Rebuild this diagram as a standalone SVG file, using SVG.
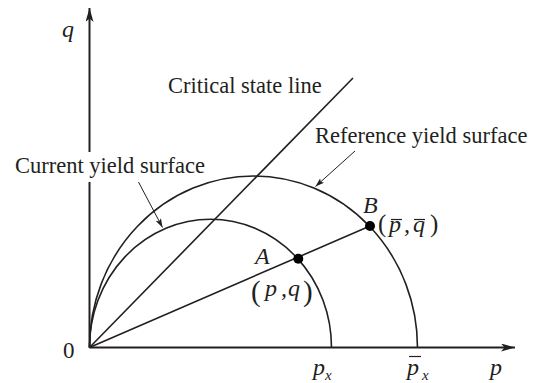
<svg xmlns="http://www.w3.org/2000/svg" width="537" height="383" viewBox="0 0 537 383">
<style>
.ax{stroke:#231f20;stroke-width:2;fill:none}
.cv{stroke:#231f20;stroke-width:1.6;fill:none}
.ld{stroke:#231f20;stroke-width:1;fill:none}
.lbl{font-family:"Liberation Serif","Times New Roman",serif;font-size:22.5px;fill:#231f20}
.m{font-family:"Liberation Serif","Times New Roman",serif;font-size:24px;font-style:italic;fill:#231f20}
.sub{font-family:"Liberation Serif","Times New Roman",serif;font-size:15px;font-style:italic;fill:#231f20}
.up{font-family:"Liberation Serif","Times New Roman",serif;fill:#231f20}
.bar{stroke:#231f20;stroke-width:1.2}
.dot{fill:#000}
</style>
<defs>
<marker id="axisArrow" viewBox="0 0 14 8" markerWidth="14" markerHeight="8" refX="14" refY="4" orient="auto" markerUnits="userSpaceOnUse">
<path d="M0,0 L14,4 L0,8 L3.5,4 Z" fill="#231f20"/>
</marker>
<marker id="leadArrow" viewBox="0 0 9 6" markerWidth="9" markerHeight="6" refX="9" refY="3" orient="auto" markerUnits="userSpaceOnUse">
<path d="M0,0 L9,3 L0,6 L2,3 Z" fill="#231f20"/>
</marker>
</defs>

<g id="axes">
<path class="ax" d="M89.5,347.5 L515,347.5" marker-end="url(#axisArrow)"/>
<path class="ax" d="M89.5,347.5 L89.5,182"/>
<path class="ax" d="M89.5,152 L89.5,8" marker-end="url(#axisArrow)"/>
<text class="m" x="62" y="37">q</text>
<text class="up" x="63" y="358" font-size="23">0</text>
<text class="m" x="490" y="375">p</text>
</g>

<g id="current-yield-surface">
<path class="cv" d="M89.5,347.5 A121,128.2 0 0 1 331.5,347.5"/>
<text class="m" x="313" y="375">p</text>
<text class="sub" x="325" y="380">x</text>
</g>

<g id="reference-yield-surface">
<path class="cv" d="M89.5,347.5 A164,171.5 0 0 1 417.5,347.5"/>
<text class="m" x="407" y="375">p</text>
<line class="bar" x1="409" y1="356.5" x2="421" y2="356.5"/>
<text class="sub" x="422" y="380">x</text>
</g>

<g id="critical-state-line">
<path class="cv" d="M89.5,347.5 L353,78"/>
</g>

<g id="connectors">
<path class="cv" d="M89.5,347.5 L370,226"/>
<path class="ld" d="M355,151 L315.5,186.5" marker-end="url(#leadArrow)"/>
<path class="ld" d="M138.5,182 L162.5,227.5" marker-end="url(#leadArrow)"/>
</g>

<g id="point-A">
<circle class="dot" cx="298.3" cy="258.7" r="5"/>
<text class="m" x="255" y="264">A</text>
<text class="up" x="251" y="301" font-size="29">(</text>
<text class="m" x="265" y="296">p</text>
<text class="m" x="281" y="296" font-style="normal">,</text>
<text class="m" x="288" y="296">q</text>
<text class="up" x="303" y="301" font-size="29">)</text>
</g>

<g id="point-B">
<circle class="dot" cx="370" cy="226" r="5"/>
<text class="m" x="363" y="213">B</text>
<text class="up" x="378" y="232" font-size="25">(</text>
<text class="m" x="389" y="232" font-size="22">p</text>
<line class="bar" x1="391" y1="219.5" x2="402" y2="219.5"/>
<text class="m" x="404" y="232" font-size="22" font-style="normal">,</text>
<text class="m" x="413" y="232" font-size="22">q</text>
<line class="bar" x1="414" y1="219.5" x2="425" y2="219.5"/>
<text class="up" x="430" y="232" font-size="25">)</text>
</g>

<g id="labels">
<text class="lbl" x="168" y="93">Critical state line</text>
<text class="lbl" x="315" y="143">Reference yield surface</text>
<text class="lbl" x="15" y="173">Current yield surface</text>
</g>
</svg>
